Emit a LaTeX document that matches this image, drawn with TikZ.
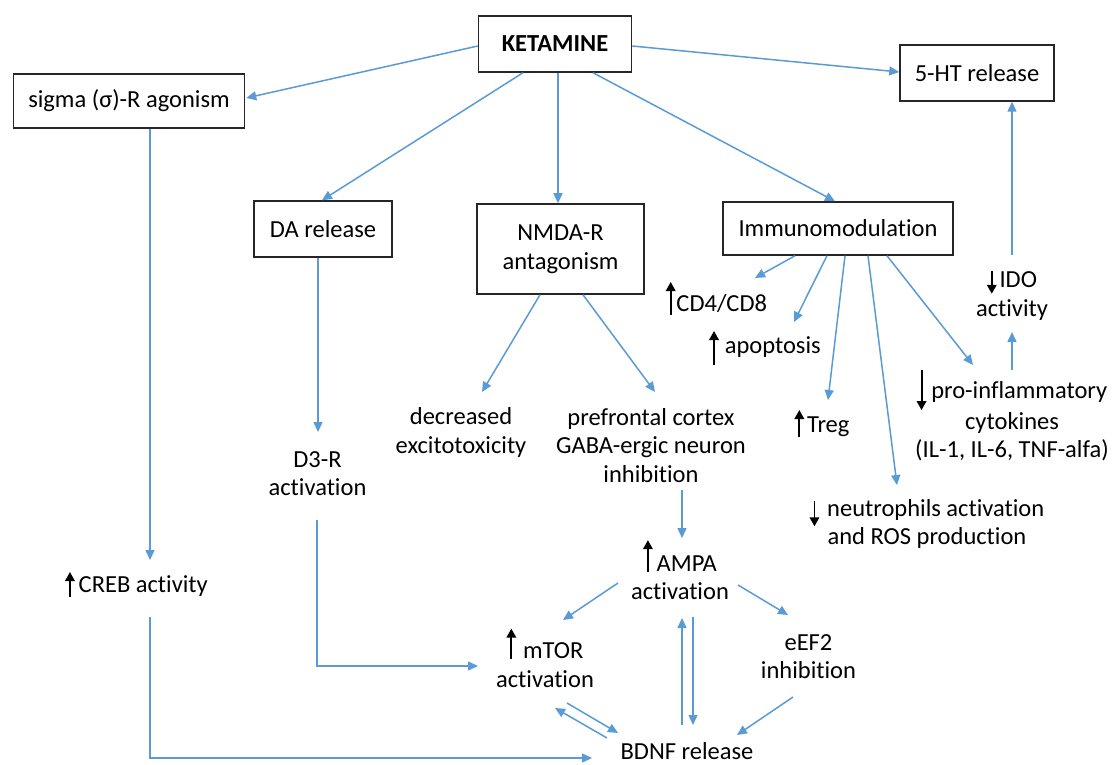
\documentclass[tikz,border=0pt]{standalone}
\usepackage{fontspec}
\setmainfont{Carlito}[Ligatures=NoCommon]
\usetikzlibrary{arrows.meta,calc}
\definecolor{arrowblue}{HTML}{5B9BD5}
\newcommand{\ua}[2]{\tikz[baseline=0pt]\draw[line width=1.9pt,-{Triangle[length=9pt,width=9.5pt]}] (0pt,-#1pt)--(0pt,#2pt);}
\newcommand{\da}[2]{\tikz[baseline=0pt]\draw[line width=1.9pt,-{Triangle[length=9pt,width=9.5pt]}] (0pt,#1pt)--(0pt,-#2pt);}
\begin{document}
\begin{tikzpicture}[x=1pt,y=-1pt,
  font=\fontsize{24.5}{28.5}\selectfont,
  box/.style={draw=black!85, line width=1.5pt, inner sep=0pt, align=center},
  txt/.style={inner sep=0pt, align=center},
  arr/.style={draw=arrowblue, line width=1.5pt, -{Triangle[length=10pt,width=9pt]}}]

\useasboundingbox[fill=white] (0,0) rectangle (1112,765);

% boxes
\node[box, minimum width=153pt, minimum height=56pt, font=\fontsize{24.5}{28.5}\selectfont\bfseries] (ket) at (555,44) {KETAMINE};
\node[box, minimum width=231pt, minimum height=54pt] (sigma) at (129,101) {sigma (σ)-R agonism};
\node[box, minimum width=154pt, minimum height=56pt] (ht) at (977,73) {5-HT release};
\node[box, minimum width=138pt, minimum height=56pt] (da) at (323,229) {DA release};
\node[box, minimum width=167pt, minimum height=90pt] (nmda) at (560.5,249) {NMDA-R\\antagonism};
\node[box, minimum width=230pt, minimum height=53pt] (imm) at (838,228.5) {Immunomodulation};

% text nodes
\node[txt] (cd4) at (716.5,298.5) {\ua{4}{29}\hspace{1pt}CD4/CD8};
\node[txt] (apop) at (765,348) {\ua{12}{22}\hspace{6pt}apoptosis};
\node[txt] (treg) at (822,423.5) {\ua{5}{22}\hspace{3pt}Treg};
\node[txt] (proinf) at (1012,415) {\da{28}{12}\hspace{5pt}pro-inflammatory\\cytokines\\(IL-1, IL-6, TNF-alfa)};
\node[txt] (ido) at (1012,295) {\da{17}{6}\hspace{3pt}IDO\\activity};
\node[txt] (neut) at (927,524) {\da{15}{10}\hspace{8pt}neutrophils activation\\and ROS production};
\node[txt] (decr) at (461,432.5) {decreased\\excitotoxicity};
\node[txt] (pref) at (651,445.5) {prefrontal cortex\\GABA-ergic neuron\\inhibition};
\node[txt] (d3) at (317.5,473.5) {D3-R\\activation};
\node[txt] (creb) at (136.5,584.5) {\ua{5}{20}\hspace{4pt}CREB activity};
\node[txt] (ampa) at (680,569.5) {\ua{1}{31}\hspace{4pt}AMPA\\activation};
\node[txt] (mtor) at (545,657.5) {\ua{0}{30}\hspace{7pt}mTOR\\activation};
\node[txt] (eef2) at (808.5,656.5) {eEF2\\inhibition};
\node[txt] (bdnf) at (687,751) {BDNF release};

% connectors from KETAMINE
\draw[arr] ($(ket.west)+(0,2)$) -- ($(sigma.east)+(1,-3)$);
\draw[arr] ($(ket.east)+(0,2)$) -- ($(ht.west)+(0,-1)$);
\draw[arr] ($(ket.south)+(-32,0)$) -- ($(da.north)+(-1,0)$);
\draw[arr] ($(ket.south)+(3,0)$) -- ($(nmda.north)+(-2.5,0)$);
\draw[arr] ($(ket.south)+(38,0)$) -- ($(imm.north)+(-3,0)$);

% left branch
\draw[arr] ($(sigma.south)+(21,0)$) -- ($(creb)+(13.5,-24.5)$);
\draw[arr] ($(creb)+(13.5,32.5)$) |- ($(bdnf)+(-95,7)$);
\draw[arr] ($(da.south)+(-5,0)$) -- ($(d3)+(0.5,-41.5)$);
\draw[arr] ($(d3)+(-0.5,46.5)$) |- ($(mtor)+(-67,8.5)$);

% NMDA branch
\draw[arr] ($(nmda.south)+(-20.5,0)$) -- ($(decr)+(21,-40.5)$);
\draw[arr] ($(nmda.south)+(22.5,0)$) -- ($(pref)+(4,-53.5)$);
\draw[arr] ($(pref)+(31,44.5)$) -- ($(ampa)+(2,-31.5)$);
\draw[arr] ($(ampa)+(-62,13.5)$) -- ($(mtor)+(18,-37.5)$);
\draw[arr] ($(ampa)+(58,15.5)$) -- ($(eef2)+(-20.5,-41.5)$);
\draw[arr] ($(eef2)+(-15.5,40.5)$) -- ($(bdnf)+(50,-16)$);
\draw[arr] ($(bdnf)+(-5,-26)$) -- ($(ampa)+(2,48.5)$);
\draw[arr] ($(ampa)+(13,47.5)$) -- ($(bdnf)+(6,-26)$);
\draw[arr] ($(mtor)+(22,45.5)$) -- ($(bdnf)+(-69,-18)$);
\draw[arr] ($(bdnf)+(-80,-13)$) -- ($(mtor)+(10,50.5)$);

% Immunomodulation branch
\draw[arr] ($(imm.south)+(-43,0)$) -- ($(cd4)+(38.5,-20.5)$);
\draw[arr] ($(imm.south)+(-11,0)$) -- ($(apop)+(29,-26)$);
\draw[arr] ($(imm.south)+(7,0)$) -- ($(treg)+(6,-23.5)$);
\draw[arr] ($(imm.south)+(30,0)$) -- ($(neut)+(-30,-39)$);
\draw[arr] ($(imm.south)+(49,0)$) -- ($(proinf)+(-39,-50)$);
\draw[arr] ($(proinf)+(0,-45)$) -- ($(ido)+(0,37)$);
\draw[arr] ($(ido)+(0,-40)$) -- ($(ht.south)+(35,0)$);

\end{tikzpicture}
\end{document}
